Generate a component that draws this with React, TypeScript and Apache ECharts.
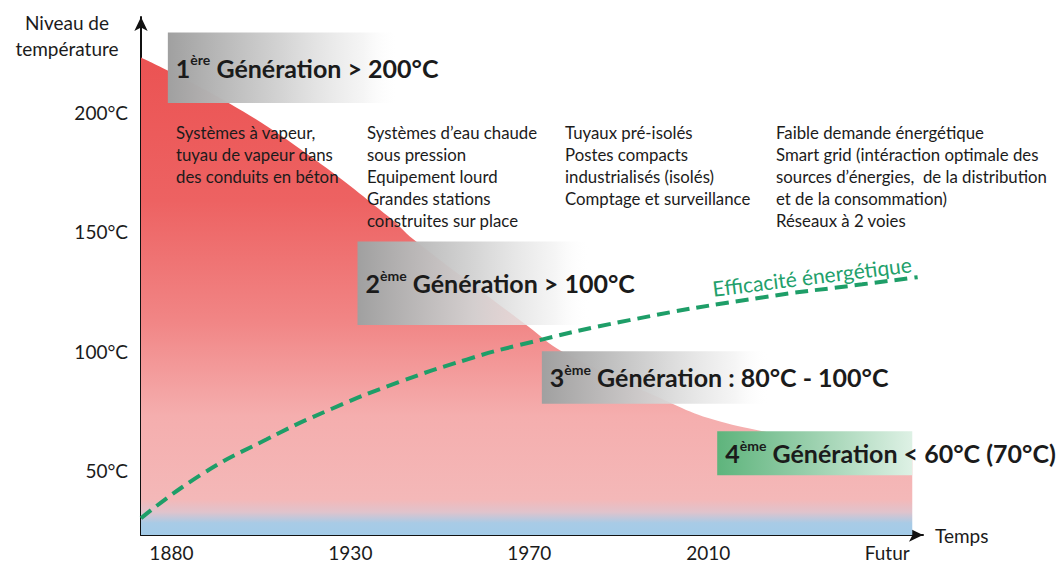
import React, { useEffect, useRef } from "react";
import * as echarts from "echarts";

// ---- data ----
const xLabels = ["1880", "1930", "1970", "2010", "Futur"];
const yTicks = [50, 100, 150, 200];

// supply temperature level over time (x = period index, y = °C)
const tempCurve: [number, number][] = [
  [-0.17, 223],
  [0.32, 204],
  [0.77, 182],
  [1.22, 156],
  [1.35, 147],
  [2.0, 110],
  [2.18, 100],
  [2.8, 78],
  [3.0, 72],
  [3.27, 67],
  [4.14, 55],
];

// energy efficiency trend (dashed)
const efficiency: [number, number][] = [
  [-0.17, 30],
  [0.16, 48],
  [0.53, 63],
  [0.9, 76],
  [1.27, 87],
  [1.65, 96.5],
  [1.94, 102.5],
  [2.56, 113],
  [3.3, 122.5],
  [3.86, 128],
  [4.17, 131],
];

const genNum = ["1", "2", "3", "4"];
const genSup = ["ère", "ème", "ème", "ème"];
const genText = [
  " Génération > 200°C",
  " Génération > 100°C",
  " Génération : 80°C - 100°C",
  " Génération < 60°C (70°C)",
];
// generation boxes extents: [xStart, xEnd, tempTop, tempBottom]
const genBoxes: [number, number, number, number][] = [
  [-0.02, 1.27, 233.5, 204],
  [1.04, 2.34, 146, 111],
  [2.07, 3.34, 100, 78],
  [3.05, 4.14, 66.5, 48],
];

const descriptions: string[][] = [
  ["Systèmes à vapeur,", "tuyau de vapeur dans", "des conduits en béton"],
  [
    "Systèmes d’eau chaude",
    "sous pression",
    "Equipement lourd",
    "Grandes stations",
    "construites sur place",
  ],
  [
    "Tuyaux pré-isolés",
    "Postes compacts",
    "industrialisés (isolés)",
    "Comptage et surveillance",
  ],
  [
    "Faible demande énergétique",
    "Smart grid (intéraction optimale des",
    "sources d’énergies,  de la distribution",
    "et de la consommation)",
    "Réseaux à 2 voies",
  ],
];

const FONT = "Lato, 'Open Sans', sans-serif";
const TXT = "#1b1b1b";

export default function App() {
  const ref = useRef<HTMLDivElement>(null);

  useEffect(() => {
    if (!ref.current) return;
    const chart = echarts.init(ref.current, null, { renderer: "svg" });

    const areaGrad = new echarts.graphic.LinearGradient(0, 0, 0, 1, [
      { offset: 0, color: "#eb5353" },
      { offset: 0.3, color: "#ed6262" },
      { offset: 0.55, color: "#f18585" },
      { offset: 0.75, color: "#f5aeae" },
      { offset: 0.925, color: "#f4b8b8" },
      { offset: 0.952, color: "#e0c3cc" },
      { offset: 0.975, color: "#a8cbe6" },
      { offset: 1, color: "#a2cbe8" },
    ]);

    const greyGrad = () =>
      new echarts.graphic.LinearGradient(0, 0, 1, 0, [
        { offset: 0, color: "rgba(160,160,160,1)" },
        { offset: 0.5, color: "rgba(210,210,210,0.95)" },
        { offset: 0.85, color: "rgba(242,242,242,0.75)" },
        { offset: 1, color: "rgba(255,255,255,0)" },
      ]);
    const greenGrad = new echarts.graphic.LinearGradient(0, 0, 1, 0, [
      { offset: 0, color: "rgba(94,180,124,1)" },
      { offset: 0.45, color: "rgba(150,206,170,1)" },
      { offset: 1, color: "rgba(222,241,229,1)" },
    ]);

    const rich = {
      n: { fontSize: 25, fontWeight: "bold", color: TXT, fontFamily: FONT, lineHeight: 30 },
      s: {
        fontSize: 14,
        fontWeight: "bold",
        color: TXT,
        fontFamily: FONT,
        verticalAlign: "top",
        lineHeight: 15,
        padding: [0, 0, 13, 0],
      },
      t: { fontSize: 25, fontWeight: "bold", color: TXT, fontFamily: FONT, lineHeight: 30 },
    };

    const markData = genBoxes.map((b, i) => [
      {
        coord: [b[0], b[2]],
        itemStyle: { color: i === 3 ? greenGrad : greyGrad() },
        label: {
          show: true,
          position: "insideLeft",
          distance: 8,
          formatter: `{n|${genNum[i]}}{s|${genSup[i]}}{t|${genText[i]}}`,
          rich,
        },
      },
      { coord: [b[1], b[3]] },
    ]);

    const graphics: any[] = [
      {
        type: "text",
        x: 67,
        y: 9,
        style: {
          text: "Niveau de\ntempérature",
          align: "center",
          verticalAlign: "top",
          font: `19px ${FONT}`,
          lineHeight: 26,
          fill: TXT,
        },
      },
      {
        type: "text",
        x: 812,
        y: 276,
        rotation: (7 * Math.PI) / 180,
        style: {
          text: "Efficacité énergétique",
          align: "center",
          verticalAlign: "middle",
          font: `21px ${FONT}`,
          fill: "#22a06b",
        },
        z: 20,
      },
    ];
    const descX = [176, 367, 565, 776];
    descriptions.forEach((lines, i) => {
      graphics.push({
        type: "text",
        x: descX[i],
        y: 121,
        z: 20,
        style: {
          text: lines.join("\n"),
          align: "left",
          verticalAlign: "top",
          font: `16.8px ${FONT}`,
          lineHeight: 22,
          fill: TXT,
        },
      });
    });

    chart.setOption({
      animation: false,
      grid: {
        left: 141,
        right: 138,
        top: 17,
        bottom: 30,
        containLabel: false,
        outerBoundsMode: "none",
      },
      xAxis: {
        type: "value",
        min: -0.17,
        max: 4.2,
        name: "Temps",
        nameLocation: "end",
        nameGap: 12,
        nameTextStyle: { fontSize: 19, color: TXT, fontFamily: FONT, verticalAlign: "middle" },
        axisLine: {
          show: true,
          onZero: false,
          symbol: ["none", "arrow"],
          symbolSize: [10, 14],
          lineStyle: { color: "#111", width: 2 },
        },
        axisTick: { show: false },
        splitLine: { show: false },
        axisLabel: {
          customValues: xLabels.map((_, i) => i),
          formatter: (v: number) => xLabels[Math.round(v)] ?? "",
          fontSize: 19,
          color: TXT,
          fontFamily: FONT,
          margin: 8,
        },
      },
      yAxis: {
        type: "value",
        min: 23,
        max: 240,
        axisLine: {
          show: true,
          onZero: false,
          symbol: ["none", "arrow"],
          symbolSize: [10, 14],
          lineStyle: { color: "#111", width: 2 },
        },
        axisTick: { show: false },
        splitLine: { show: false },
        axisLabel: {
          customValues: yTicks,
          formatter: (v: number) => `${v}°C`,
          fontSize: 19,
          color: TXT,
          fontFamily: FONT,
          margin: 13,
        },
      },
      series: [
        {
          type: "line",
          data: tempCurve,
          smooth: 0.4,
          symbol: "none",
          lineStyle: { width: 0 },
          areaStyle: { color: areaGrad, opacity: 1, origin: "start" },
          z: 1,
          silent: true,
        },
        {
          type: "line",
          data: efficiency,
          smooth: 0.5,
          symbol: "none",
          lineStyle: { color: "#1e9e68", width: 4, type: [13, 7] },
          z: 3,
          silent: true,
          markArea: {
            silent: true,
            z: 10,
            data: markData,
          },
        },
      ],
      graphic: graphics,
    });

    return () => chart.dispose();
  }, []);

  return (
    <div
      ref={ref}
      style={{ position: "fixed", left: 0, top: 0, width: 1061, height: 565, background: "#fff" }}
    />
  );
}
